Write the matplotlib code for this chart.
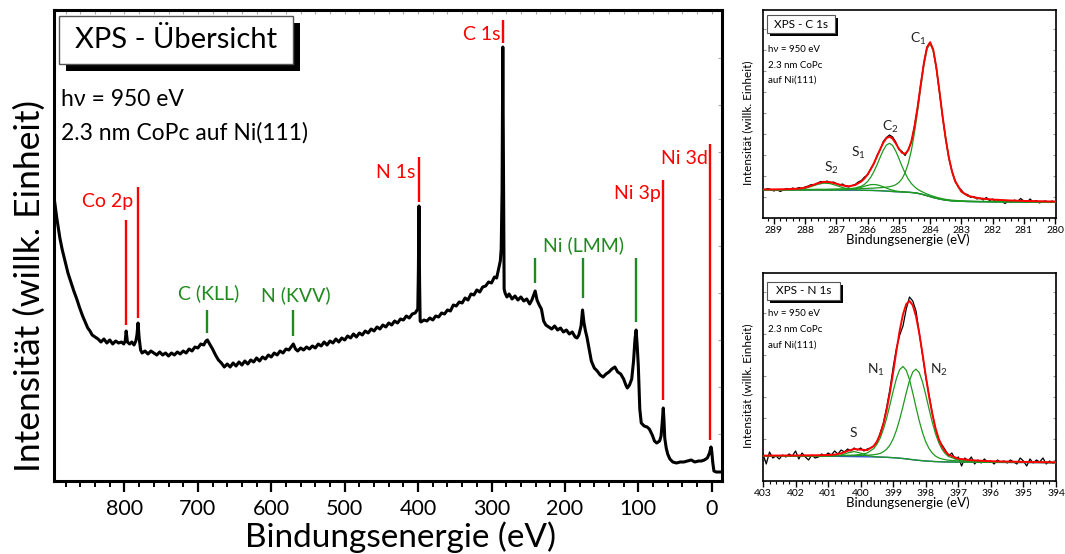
import numpy as np
import matplotlib
matplotlib.use("Agg")
import matplotlib.pyplot as plt
from matplotlib.patches import Rectangle
from matplotlib.ticker import MultipleLocator

plt.rcParams['font.family'] = ['Lato', 'DejaVu Sans']
plt.rcParams['mathtext.default'] = 'regular'

# ---- Übersichtsspektrum (Bindungsenergie eV, Intensität willk.) ----
survey_e = [896, 892, 888, 885, 881, 877, 873, 869, 865, 861, 857, 853, 850, 847, 844, 840, 836,
            832, 828, 824, 820, 816, 812, 808, 804, 801, 799, 797.7, 796, 793, 790, 787, 784.5, 783,
            781.5, 780, 778, 776, 772, 768, 764, 760, 756, 752, 748, 744, 740, 736, 732, 728, 724,
            720, 716, 712, 708, 704, 700, 696, 692, 689, 687, 684, 680, 676, 672, 668, 664, 660,
            656, 652, 648, 644, 640, 636, 632, 628, 624, 620, 616, 612, 608, 604, 600, 596, 592,
            588, 584, 580, 576, 572, 570, 567, 564, 560, 556, 552, 548, 544, 540, 536, 532, 528,
            524, 520, 516, 512, 508, 504, 500, 496, 492, 488, 484, 480, 476, 472, 468, 464, 460,
            456, 452, 448, 444, 440, 436, 432, 428, 424, 420, 416, 412, 408, 404, 400.4, 399.6,
            398.8, 398.0, 397.2, 396, 392, 388, 384, 380, 376, 372, 368, 364, 360, 356, 352, 348,
            344, 340, 336, 332, 328, 324, 320, 316, 312, 308, 304, 300, 296, 293, 290, 288, 286.8,
            285.6, 284.6, 283.6, 282.8, 281.5, 279, 276, 272, 268, 264, 260, 256, 252, 248, 245,
            243, 240.5, 238, 235, 232, 229, 226, 222, 218, 214, 210, 206, 202, 198, 194, 190, 186,
            183.5, 181, 178, 176, 174, 172, 170, 167, 164, 160, 156, 152, 148, 144, 140, 136, 132,
            128, 124, 120, 117, 115, 112, 109, 106.5, 104.5, 103, 101.5, 100, 98, 96, 92, 88, 85,
            81, 78, 75, 71, 69, 67.5, 66, 65, 64, 62, 60, 57, 53, 48, 43, 38, 33, 28, 23, 18, 14,
            10, 6, 3, 1, 0, -1.5, -3, -6, -10, -14]
survey_i = [284, 262, 243, 232, 220, 208, 199, 190, 182, 173, 165, 158, 153, 150, 146, 144, 142,
            139, 142, 138, 141, 137, 140, 138, 139, 137, 140, 150, 139, 137, 139, 136, 140, 146,
            158, 143, 131, 128, 130, 127, 130, 128, 126, 129, 126, 128, 125, 128, 126, 129, 127,
            130, 128, 132, 130, 134, 133, 137, 136, 140, 141, 137, 132, 126, 121, 118, 114, 117,
            114, 118, 115, 119, 116, 120, 117, 121, 119, 123, 120, 124, 122, 126, 124, 128, 126,
            130, 128, 132, 131, 135, 137, 132, 130, 133, 131, 134, 132, 135, 133, 137, 135, 139,
            136, 140, 138, 142, 139, 143, 141, 145, 143, 147, 144, 148, 146, 150, 148, 152, 150,
            154, 152, 156, 154, 158, 156, 160, 158, 162, 161, 165, 163, 167, 168, 172, 210,
            275, 200, 160, 159, 161, 160, 163, 161, 165, 164, 168, 167, 171, 170, 176, 175,
            179, 178, 183, 181, 187, 186, 191, 189, 194, 195, 199, 198, 204, 203, 213, 220, 232,
            290, 434, 300, 192, 188, 184, 187, 182, 185, 181, 184, 180, 182, 177, 181,
            185, 190, 181, 176, 172, 160, 156, 154, 152, 155, 151, 153, 149, 151, 147, 149, 144,
            143, 146, 155, 171, 158, 150, 144, 132, 120, 113, 110, 106, 104, 107, 109, 112, 114,
            109, 107, 102, 96, 93, 96, 102, 120, 142, 151, 135, 115, 72, 58, 55, 54, 52,
            46, 40, 38, 40, 45, 58, 73, 60, 43, 33, 27, 22, 19, 18, 19, 19, 20, 21, 19, 20, 20,
            21, 23, 28, 34, 30, 18, 10, 9, 9, 9]

# Photoemissionslinien (rot) und Auger-Linien (grün)
pe_labels = ['Co 2p', 'N 1s', 'C 1s', 'Ni 3p', 'Ni 3d']
pe_label_e = [788, 404, 287.2, 68.8, 4.8]
pe_label_i = [279, 308, 446, 288, 322]
pe_line_e = [797.7, 781.7, 398.5, 284.1, 65.7, 2.0]
pe_line_lo = [156, 163, 279, 438, 81, 41]
pe_line_hi = [261, 294, 324, 461, 301, 337]

auger_labels = ['C (KLL)', 'N (KVV)', 'Ni (LMM)']
auger_label_e = [686, 567, 175]
auger_label_i = [188, 186, 236]
auger_line_e = [687.7, 570, 241.4, 176, 103]
auger_line_lo = [148, 145, 198, 183, 159]
auger_line_hi = [171, 171, 223, 223, 223]

# ---- C 1s Detailspektrum ----
c1s_meas_start = 289.4
c1s_meas = [29.0, 28.0, 29.5, 28.5, 27.0, 28.5, 26.5, 28.0, 29.5, 28.5,
            30.0, 29.0, 30.5, 29.5, 31.0, 32.0, 33.5, 33.0, 35.0, 36.5,
            35.5, 37.0, 35.0, 36.0, 34.5, 33.0, 34.0, 31.5, 31.0, 32.5,
            33.5, 36.0, 37.5, 41.0, 43.0, 49.5, 54.0, 62.5, 68.0, 76.5,
            80.5, 83.0, 81.0, 76.0, 68.5, 66.5, 62.5, 68.5, 76.0, 92.0,
            110.5, 134.0, 155.0, 171.0, 175.5, 168.0, 150.5, 126.0, 101.0, 79.5,
            60.0, 47.0, 37.5, 31.0, 28.0, 24.0, 23.5, 20.5, 21.5, 19.0,
            20.0, 18.0, 20.5, 17.5, 19.0, 16.0, 18.5, 16.5, 14.5, 17.0,
            15.5, 18.0, 16.5, 19.5, 17.0, 15.5, 19.0, 16.0, 17.5, 15.0,
            16.5, 17.0, 15.5, 17.0, 16.0]
c1s_e = [289.4, 289.0, 288.6, 288.2, 288.0, 287.8, 287.6, 287.4, 287.2, 287.0, 286.8, 286.6,
         286.4, 286.2, 286.1, 286.0, 285.9, 285.8, 285.7, 285.6, 285.5, 285.4, 285.3, 285.2,
         285.1, 285.0, 284.9, 284.8, 284.7, 284.6, 284.5, 284.4, 284.3, 284.2, 284.1, 284.0,
         283.9, 283.8, 283.7, 283.6, 283.5, 283.4, 283.3, 283.2, 283.0, 282.8, 282.6, 282.4,
         282.0, 281.5, 281.0, 280.5, 280.0]
c1s_bg = [28.2, 28.1, 28.1, 28.0, 28.0, 28.0, 28.0, 27.9, 27.9, 27.9, 27.9, 27.8,
          27.8, 27.7, 27.7, 27.6, 27.6, 27.5, 27.4, 27.3, 27.1, 26.9, 26.7, 26.5,
          26.3, 26.2, 26.0, 25.9, 25.7, 25.5, 25.2, 24.7, 24.0, 23.2, 22.3, 21.4,
          20.5, 19.7, 19.0, 18.4, 17.9, 17.5, 17.2, 17.0, 16.7, 16.5, 16.4, 16.3,
          16.2, 16.1, 16.0, 15.9, 15.8]
c1s_c1 = [0.3, 0.3, 0.4, 0.45, 0.5, 0.55, 0.65, 0.7, 0.8, 0.9, 1.0, 1.2,
          1.4, 1.7, 1.8, 2.0, 2.2, 2.4, 2.7, 3.0, 3.4, 4.0, 4.6, 5.5,
          7.0, 9.3, 13.2, 19.3, 28.8, 42.2, 60.3, 82.3, 106.5, 129.4, 146.6, 153.0,
          146.6, 129.4, 106.5, 82.3, 60.3, 42.2, 28.8, 19.3, 9.3, 5.5, 4.0, 3.0,
          2.0, 1.3, 0.9, 0.7, 0.5]
c1s_c2 = [0.15, 0.19, 0.23, 0.3, 0.34, 0.42, 0.48, 0.57, 0.69, 0.84, 1.07, 1.4,
          2.2, 4.1, 6.0, 9.0, 13.2, 18.9, 25.8, 33.4, 40.6, 46.0, 48.0, 46.0,
          40.6, 33.4, 25.8, 18.9, 13.2, 9.0, 6.0, 4.1, 2.9, 2.2, 1.7, 1.4,
          1.25, 1.07, 0.95, 0.84, 0.76, 0.69, 0.62, 0.57, 0.48, 0.42, 0.36, 0.32,
          0.25, 0.2, 0.16, 0.14, 0.12]
c1s_s1 = [0, 0, 0, 0, 0, 0, 0, 0, 0, 0, 0.08, 0.38,
          1.26, 3.0, 4.06, 5.05, 5.75, 6.0, 5.75, 5.05, 4.06, 3.0, 2.03, 1.26,
          0.72, 0.38, 0.18, 0.08, 0.03, 0, 0, 0, 0, 0, 0, 0,
          0, 0, 0, 0, 0, 0, 0, 0, 0, 0, 0, 0,
          0, 0, 0, 0, 0]
c1s_s2 = [0, 0, 0.05, 0.6, 1.6, 3.5, 5.6, 7.0, 6.5, 4.6, 2.5, 1.0,
          0.3, 0.1, 0, 0, 0, 0, 0, 0, 0, 0, 0, 0,
          0, 0, 0, 0, 0, 0, 0, 0, 0, 0, 0, 0,
          0, 0, 0, 0, 0, 0, 0, 0, 0, 0, 0, 0,
          0, 0, 0, 0, 0]
c1s_peak_labels = ['C$_1$', 'C$_2$', 'S$_1$', 'S$_2$']
c1s_peak_e = [284.39, 285.27, 286.31, 287.16]
c1s_peak_i = [179, 91, 65, 50]

# ---- N 1s Detailspektrum ----
n1s_meas_start = 403.0
n1s_meas = [27, 17, 29, 23, 25, 22, 26, 24, 27, 25,
            30, 22, 28, 24, 21, 26, 23, 24, 27, 25,
            28, 26, 30, 27, 31, 29, 32, 30, 33, 31,
            33, 30, 32, 33, 35, 39, 48, 58, 74, 92,
            114, 133, 146, 155, 172, 184, 180, 170, 148, 126,
            104, 86, 68, 52, 41, 36, 31, 25, 28, 22,
            24, 15, 23, 20, 24, 17, 21, 18, 22, 19,
            20, 17, 21, 19, 20, 18, 21, 19, 17, 23,
            20, 15, 22, 18, 21, 19, 23, 17, 20, 18,
            19]
n1s_e = [403.0, 402.5, 402.0, 401.6, 401.2, 401.0, 400.8, 400.6, 400.4, 400.2, 400.0, 399.8,
         399.6, 399.5, 399.4, 399.3, 399.2, 399.1, 399.0, 398.9, 398.8, 398.7, 398.6, 398.5,
         398.4, 398.3, 398.2, 398.1, 398.0, 397.9, 397.8, 397.7, 397.6, 397.5, 397.4, 397.3,
         397.0, 396.6, 396.2, 395.8, 395.0, 394.5, 394.0]
n1s_bg = [25.0, 25.0, 24.9, 24.9, 24.8, 24.8, 24.7, 24.6, 24.5, 24.4, 24.3, 24.2,
          24.1, 24.0, 23.9, 23.8, 23.7, 23.5, 23.3, 23.1, 22.8, 22.5, 22.1, 21.7,
          21.3, 20.9, 20.6, 20.3, 20.0, 19.8, 19.6, 19.4, 19.3, 19.2, 19.1, 19.0,
          18.9, 18.8, 18.7, 18.6, 18.5, 18.4, 18.3]
n1s_n1 = [0.2, 0.26, 0.34, 0.43, 0.58, 0.68, 0.8, 0.98, 1.2, 1.54, 2.25, 3.8,
          8.3, 12.7, 19.1, 28.1, 39.5, 52.8, 66.8, 79.6, 88.7, 92.0, 88.7, 79.6,
          66.8, 52.8, 39.5, 28.1, 19.1, 12.7, 8.3, 5.5, 3.8, 2.8, 2.25, 1.8,
          1.2, 0.8, 0.58, 0.43, 0.27, 0.22, 0.17]
n1s_n2 = [0.17, 0.21, 0.27, 0.34, 0.43, 0.48, 0.57, 0.67, 0.79, 0.97, 1.2, 1.5,
          2.2, 2.8, 3.7, 5.5, 8.2, 12.5, 18.9, 27.8, 39.1, 52.2, 66.1, 78.7,
          87.7, 91.0, 87.7, 78.7, 66.1, 52.2, 39.1, 27.8, 18.9, 12.5, 8.2, 5.5,
          2.2, 1.2, 0.79, 0.57, 0.34, 0.26, 0.2]
n1s_s = [0, 0, 0, 0, 0, 0.05, 0.3, 1.4, 3.6, 5.0, 3.6, 1.4,
         0.3, 0.1, 0.03, 0, 0, 0, 0, 0, 0, 0, 0, 0,
         0, 0, 0, 0, 0, 0, 0, 0, 0, 0, 0, 0,
         0, 0, 0, 0, 0, 0, 0]
n1s_peak_labels = ['N$_1$', 'N$_2$', 'S']
n1s_peak_e = [399.52, 397.59, 400.22]
n1s_peak_i = [111, 111, 48]

RED = '#ff0000'
GREEN = '#1f8a1f'
FIT_GREEN = '#1e9a1e'

W, H = 1065, 554
fig = plt.figure(figsize=(W / 100, H / 100), dpi=100)


def rect(x0, y0, x1, y1):
    # Pixelkoordinaten (oben links) -> Figure-Koordinaten
    return [x0 / W, 1 - y1 / H, (x1 - x0) / W, (y1 - y0) / H]


def title_box(x0, y0, x1, y1, off, label, size, lw):
    l, b, w, h = rect(x0, y0, x1, y1)
    fig.add_artist(Rectangle((l + off / W, b - off / H), w, h, transform=fig.transFigure,
                             facecolor='black', edgecolor='none', zorder=5))
    fig.add_artist(Rectangle((l, b), w, h, transform=fig.transFigure,
                             facecolor='white', edgecolor='#555555', lw=lw, zorder=6))
    fig.text(l + w / 2, b + h / 2, label, ha='center', va='center', fontsize=size, zorder=7)


def fig_text(x, y, s, size, **kw):
    fig.text(x / W, 1 - y / H, s, fontsize=size, va='center', zorder=7, **kw)


# ===== Hauptachse =====
ax = fig.add_axes(rect(54, 10, 722, 481))
ax.plot(survey_e, survey_i, color='black', lw=2.2, zorder=3)
ax.vlines(pe_line_e, pe_line_lo, pe_line_hi, color=RED, lw=1.7)
ax.vlines(auger_line_e, auger_line_lo, auger_line_hi, color=GREEN, lw=1.7)
for s, e, i in zip(pe_labels, pe_label_e, pe_label_i):
    ax.text(e, i, s, color=RED, fontsize=14, ha='right', va='center')
for s, e, i in zip(auger_labels, auger_label_e, auger_label_i):
    ax.text(e, i, s, color=GREEN, fontsize=14, ha='center', va='center')

ax.set_xlim(896, -14)
ax.set_ylim(0, 471)
ax.xaxis.set_major_locator(MultipleLocator(100))
ax.xaxis.set_minor_locator(MultipleLocator(20))
ax.yaxis.set_major_locator(MultipleLocator(47))
ax.tick_params(axis='x', which='major', direction='out', length=8, width=1.6,
               labelsize=15.5, pad=5)
ax.tick_params(axis='x', which='minor', direction='out', length=4, width=1.4)
ax.tick_params(axis='x', which='both', top=False)
ax.tick_params(axis='y', left=False, labelleft=False, right=True, direction='in',
               length=3, color='#aaaaaa')
for sp in ax.spines.values():
    sp.set_linewidth(2.2)
# graue Innen-Ticks oben
ax_top = ax.secondary_xaxis('top')
ax_top.xaxis.set_major_locator(MultipleLocator(20))
ax_top.tick_params(direction='in', length=3, color='#aaaaaa', labeltop=False)

ax.set_xlabel('Bindungsenergie (eV)', fontsize=24, va='center')
ax.xaxis.set_label_coords(0.518, -0.119)
ax.set_ylabel('Intensität (willk. Einheit)', fontsize=25.5, va='center')
ax.yaxis.set_label_coords(-0.036, 0.414)

title_box(59, 16, 293, 64, 7, 'XPS - Übersicht', 21, 1.0)
fig_text(61, 100, 'hν = 950 eV', 16.5)
fig_text(61, 133, '2.3 nm CoPc auf Ni(111)', 16.5)


# ===== Detailspektren =====
def detail(box, meas_start, meas, e, bg, comps, xlim, xt, labels, le, li):
    a = fig.add_axes(rect(*box))
    bg = np.array(bg)
    comps = [np.array(c) for c in comps]
    envelope = bg + sum(comps)
    meas_e = meas_start - 0.1 * np.arange(len(meas))
    a.plot(meas_e, meas, color='black', lw=0.9, zorder=2)
    a.plot(e, bg, color='#3355cc', lw=1.0, zorder=3)
    for c in comps:
        a.plot(e, bg + c, color=FIT_GREEN, lw=0.9, zorder=4)
    a.plot(e, envelope, color=RED, lw=1.4, zorder=5)
    for s, x, y in zip(labels, le, li):
        a.text(x, y, s, fontsize=10, ha='center', va='center', color='#222222')
    a.set_xlim(*xlim)
    a.set_ylim(0, 208)
    a.set_xticks(xt)
    a.xaxis.set_minor_locator(MultipleLocator(0.2))
    a.yaxis.set_major_locator(MultipleLocator(21))
    a.tick_params(axis='x', which='major', direction='out', length=4, width=1.0,
                  labelsize=7.5, pad=2)
    a.tick_params(axis='x', which='minor', direction='out', length=2, width=0.8)
    a.tick_params(axis='y', direction='in', length=2.5, color='#999999',
                  labelleft=False, right=True)
    for sp in a.spines.values():
        sp.set_linewidth(1.2)
    a.set_xlabel('Bindungsenergie (eV)', fontsize=9.5, va='center')
    a.xaxis.set_label_coords(0.495, -0.106)
    a.set_ylabel('Intensität (willk. Einheit)', fontsize=8.5, va='center')
    a.yaxis.set_label_coords(-0.051, 0.46)
    return a


detail((763, 10, 1056, 218), c1s_meas_start, c1s_meas, c1s_e, c1s_bg,
       [c1s_c1, c1s_c2, c1s_s1, c1s_s2], (289.35, 279.97), range(289, 279, -1),
       c1s_peak_labels, c1s_peak_e, c1s_peak_i)
title_box(767, 15, 835, 33, 3, 'XPS - C 1s', 8.5, 0.8)
fig_text(768, 50, 'hν = 950 eV', 7)
fig_text(768, 65, '2.3 nm CoPc', 7)
fig_text(768, 80, 'auf Ni(111)', 7)

detail((763, 273, 1056, 481), n1s_meas_start, n1s_meas, n1s_e, n1s_bg,
       [n1s_n1, n1s_n2, n1s_s], (403, 394), range(403, 393, -1),
       n1s_peak_labels, n1s_peak_e, n1s_peak_i)
title_box(767, 282, 840, 300, 3, 'XPS - N 1s', 8.5, 0.8)
fig_text(768, 313, 'hν = 950 eV', 7)
fig_text(768, 330, '2.3 nm CoPc', 7)
fig_text(768, 345, 'auf Ni(111)', 7)

fig.savefig('out.png', dpi=100)
